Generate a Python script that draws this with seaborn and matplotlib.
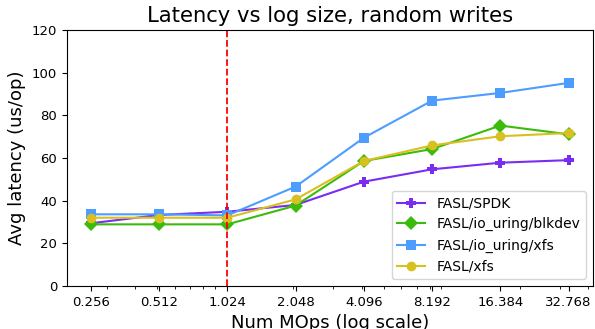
import matplotlib
matplotlib.use("Agg")
import matplotlib.pyplot as plt
import seaborn as sns
import pandas as pd
from matplotlib.ticker import FixedLocator, FixedFormatter, LogLocator, NullFormatter

sizes = [0.256, 0.512, 1.024, 2.048, 4.096, 8.192, 16.384, 32.768]
tick_labels = ["0.256", "0.512", "1.024", "2.048", "4.096", "8.192", "16.384", "32.768"]
spdk = [29.4, 33.3, 34.8, 38.0, 48.9, 54.7, 57.8, 59.0]
uring_blk = [28.9, 28.9, 28.9, 37.7, 58.6, 64.2, 75.2, 71.1]
uring_xfs = [33.6, 33.6, 33.1, 46.6, 69.5, 86.9, 90.5, 95.2]
xfs = [32.0, 32.0, 32.0, 40.6, 58.6, 65.9, 70.2, 71.7]
series_names = ["FASL/SPDK", "FASL/io_uring/blkdev", "FASL/io_uring/xfs", "FASL/xfs"]
series_vals = [spdk, uring_blk, uring_xfs, xfs]
vline_x = 1.024

plt.rcParams['font.family'] = ['DejaVu Sans']

rows = []
for name, vals in zip(series_names, series_vals):
    for s, v in zip(sizes, vals):
        rows.append({"size": s, "latency": v, "series": name})
df = pd.DataFrame(rows)

colors = {"FASL/SPDK": "#7b2cf2", "FASL/io_uring/blkdev": "#3cbb0c",
          "FASL/io_uring/xfs": "#4d9dff", "FASL/xfs": "#d8c020"}
markers = {"FASL/SPDK": "P", "FASL/io_uring/blkdev": "D",
           "FASL/io_uring/xfs": "s", "FASL/xfs": "o"}

fig = plt.figure(figsize=(5.95, 3.29), dpi=100)
ax = fig.add_axes([67/595, 43/329, 525.5/595, 256/329])
sns.lineplot(data=df, x="size", y="latency", hue="series", style="series",
             palette=colors, markers=markers, dashes=False, markersize=7,
             markeredgewidth=0, linewidth=1.5, ax=ax)
ax.set_xscale("log")
ax.set_ylim(0, 120)
ax.xaxis.set_major_locator(FixedLocator(sizes))
ax.xaxis.set_major_formatter(FixedFormatter(tick_labels))
ax.xaxis.set_minor_locator(LogLocator(base=10, subs=range(2, 10)))
ax.xaxis.set_minor_formatter(NullFormatter())
ax.axvline(vline_x, color="red", linestyle="--", linewidth=1.3)
ax.tick_params(axis="both", which="major", labelsize=9.5, colors="black")
ax.set_xlabel("Num MOps (log scale)", fontsize=13)
ax.set_ylabel("Avg latency (us/op)", fontsize=13)
ax.set_title("Latency vs log size, random writes", fontsize=15.2)
for s in ax.spines.values():
    s.set_linewidth(0.8)
    s.set_color("black")
ax.legend(loc="lower right", fontsize=10, frameon=True)
fig.savefig("out.png", dpi=100)
